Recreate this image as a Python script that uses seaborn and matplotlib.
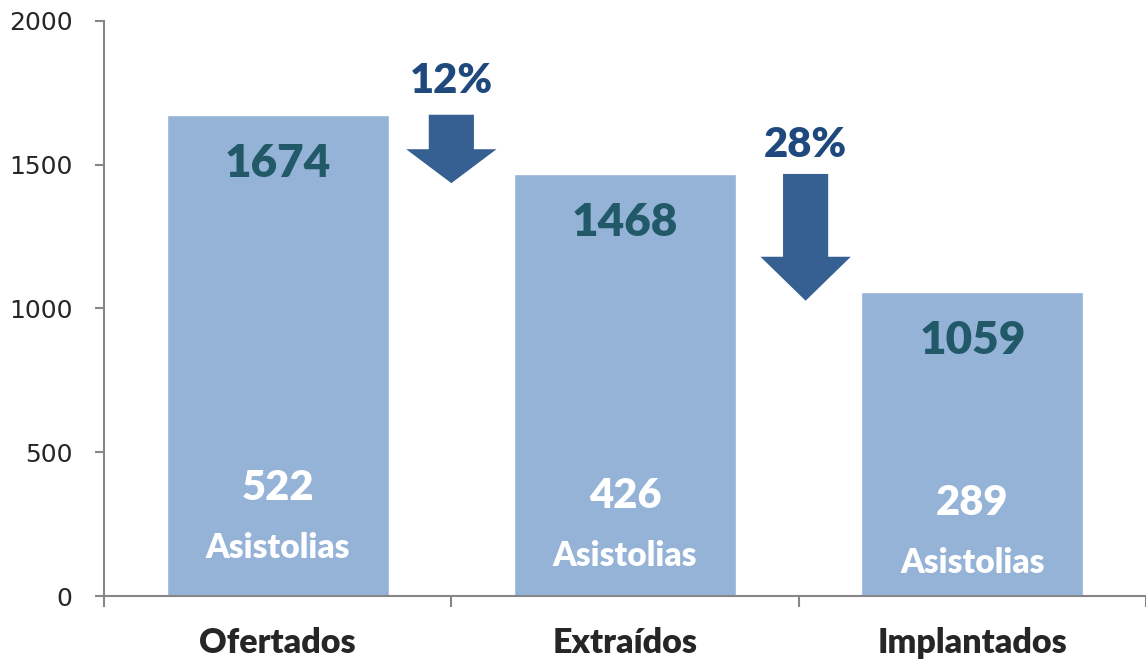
import matplotlib
matplotlib.use('Agg')
import matplotlib.pyplot as plt
from matplotlib.patches import Polygon
import numpy as np
import pandas as pd
import seaborn as sns

# chart data
categories = ['Ofertados', 'Extraídos', 'Implantados']
totals = [1674, 1468, 1059]
asistolias = [522, 426, 289]
yticks = [0, 500, 1000, 1500, 2000]

sns.set_style('white')
plt.rcParams['font.family'] = ['Lato', 'DejaVu Sans']

bar_color = '#95B3D7'
value_color = '#215968'
pct_color = '#1F497D'
arrow_color = '#376092'
axis_color = '#868686'

df = pd.DataFrame({'cat': categories, 'total': totals})

fig = plt.figure(figsize=(11.46, 6.64), dpi=100)
ax = fig.add_axes([104 / 1146, 68 / 664, 1042 / 1146, 575 / 664])

sns.barplot(data=df, x='cat', y='total', color=bar_color, width=0.64,
            saturation=1, ax=ax)

ax.set_xlim(-0.5, 2.5)
ax.set_ylim(0, 2000)
ax.set_xlabel('')
ax.set_ylabel('')

# axes styling
for side in ['top', 'right']:
    ax.spines[side].set_visible(False)
for side in ['left', 'bottom']:
    ax.spines[side].set_color(axis_color)
    ax.spines[side].set_linewidth(1.5)

ax.set_yticks(yticks)
ax.set_yticklabels([str(v) for v in yticks], family='DejaVu Sans', fontsize=18)
ax.tick_params(axis='y', direction='out', length=6.5, width=1.5, color=axis_color, pad=16, left=True)
ax.set_xticks(range(len(categories)))
ax.set_xticklabels(categories, fontsize=24.5, fontweight='heavy')
ax.tick_params(axis='x', which='major', length=0, pad=22)
ax.set_xticks(np.arange(-0.5, len(categories), 1.0), minor=True)
ax.tick_params(axis='x', which='minor', direction='out', length=8, width=1.5, color=axis_color, bottom=True)

# labels inside bars
sub_y = [376, 348, 323]
for i, (t, a) in enumerate(zip(totals, asistolias)):
    ax.text(i, t - 170, str(t), ha='center', va='center', fontsize=33,
            fontweight='heavy', color=value_color)
    ax.text(i, sub_y[i], str(a), ha='center', va='center', fontsize=30,
            fontweight='heavy', color='white')
    ax.text(i, sub_y[i] - 209, 'Asistolias', ha='center', va='center', fontsize=24,
            fontweight='heavy', color='white')

# drop arrows between bars
arrow_x = [0.5, 1.52]
head_len = [118, 153]
pct_off = [117, 99]
for k in range(len(totals) - 1):
    top = totals[k]
    tip = totals[k + 1] - 32
    hs = tip + head_len[k]
    cx = arrow_x[k]
    sw, hw = 0.065, 0.13
    pts = [(cx - sw, top), (cx + sw, top), (cx + sw, hs), (cx + hw, hs),
           (cx, tip), (cx - hw, hs), (cx - sw, hs)]
    ax.add_patch(Polygon(pts, closed=True, facecolor=arrow_color, edgecolor='none', zorder=3))
    pct = round((totals[k] - totals[k + 1]) / totals[k] * 100)
    ax.text(cx, top + pct_off[k], f'{pct}%', ha='center', va='center', fontsize=30,
            fontweight='heavy', color=pct_color)

fig.savefig('out.png', dpi=100)
